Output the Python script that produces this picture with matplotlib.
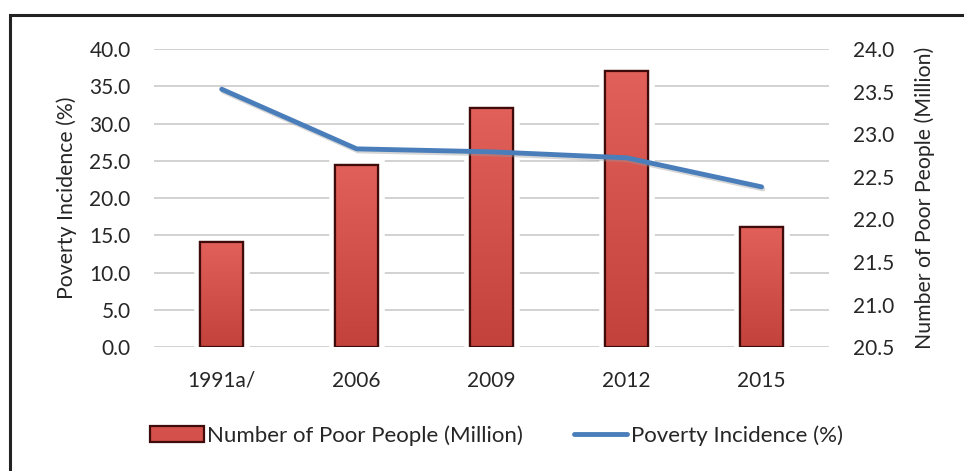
import numpy as np
import matplotlib.pyplot as plt
import matplotlib.patheffects as pe
from matplotlib.patches import Rectangle, Patch
from matplotlib.lines import Line2D
from matplotlib.colors import LinearSegmentedColormap

years = ['1991a/', '2006', '2009', '2012', '2015']
poor_people = [21.73, 22.64, 23.31, 23.74, 21.91]  # million, right axis
poverty_incidence = [34.6, 26.6, 26.2, 25.4, 21.5]  # percent, left axis

plt.rcParams['font.family'] = ['Lato', 'DejaVu Sans']
text_col = '#262626'
bar_col = '#d4504a'
edge_col = '#3f0b0b'
line_col = '#4a7ebb'
grid_col = '#cfcfcf'

fig = plt.figure(figsize=(9.64, 4.71), dpi=100)
fig.subplots_adjust(left=0.16, right=0.86, top=0.896, bottom=0.263)

ax1 = fig.add_subplot(111)
ax2 = ax1.twinx()

x = np.arange(len(years))
left_ticks = np.arange(0, 40.1, 5)
right_ticks = np.arange(20.5, 24.01, 0.5)

ax2.set_ylim(20.5, 24.0)
ax1.set_ylim(0, 40)
ax1.set_xlim(-0.5, len(years) - 0.5)

# gridlines follow the left axis ticks, drawn on ax2 so the bars cover them
for t in left_ticks:
    ax2.axhline(20.5 + t / 40 * 3.5, color=grid_col, linewidth=1.3, zorder=0)

# bars on the right axis, with a soft white halo and a vertical gradient
bars = ax2.bar(x, np.array(poor_people) - 20.5, bottom=20.5, width=0.32,
               color=bar_col, edgecolor=edge_col, linewidth=1.6, zorder=2,
               path_effects=[pe.Stroke(linewidth=9, foreground='white'), pe.Normal()])
grad = LinearSegmentedColormap.from_list('g', ['#c4423c', '#e2605a'])
for b in bars:
    x0, y0 = b.get_x(), b.get_y()
    w, h = b.get_width(), b.get_height()
    im = ax2.imshow(np.linspace(0, 1, 64).reshape(-1, 1), cmap=grad, aspect='auto',
                    origin='lower', extent=(x0, x0 + w, y0, y0 + h), zorder=2.5)
    im.set_clip_path(b)
    ax2.add_patch(Rectangle((x0, y0), w, h, fill=False, edgecolor=edge_col,
                            linewidth=1.6, zorder=3))
ax2.set_xlim(-0.5, len(years) - 0.5)
ax2.set_ylim(20.5, 24.0)
ax2.set_yticks(right_ticks)
ax2.set_yticklabels([f'{v:.1f}' for v in right_ticks])
ax2.set_ylabel('Number of Poor People (Million)', fontsize=15.3, color=text_col, labelpad=15)

# line on the left axis, on top
ax1.set_zorder(ax2.get_zorder() + 1)
ax1.patch.set_visible(False)
ax1.plot(x, poverty_incidence, color=line_col, linewidth=3.5, solid_capstyle='round',
         path_effects=[pe.SimpleLineShadow(offset=(1, -1.5), shadow_color='#999999', alpha=0.4),
                       pe.Normal()])
ax1.set_yticks(left_ticks)
ax1.set_yticklabels([f'{v:.1f}' for v in left_ticks])
ax1.set_ylabel('Poverty Incidence (%)', fontsize=15.3, color=text_col, labelpad=9)
ax1.set_xticks(x)
ax1.set_xticklabels(years)

for ax in (ax1, ax2):
    for s in ax.spines.values():
        s.set_visible(False)
    ax.tick_params(length=0, labelsize=15, colors=text_col, pad=17)
ax1.tick_params(axis='x', pad=17)

handles = [Patch(facecolor=bar_col, edgecolor=edge_col, linewidth=1.6),
           Line2D([0], [0], color=line_col, linewidth=3.5, solid_capstyle='round')]
labels = ['Number of Poor People (Million)', 'Poverty Incidence (%)']
fig.legend(handles, labels, loc='center', bbox_to_anchor=(0.515, 0.075), ncol=2,
           frameon=False, fontsize=16, handlelength=2.4, handletextpad=0.15,
           columnspacing=2.3, labelcolor=text_col)

# outer frame
fig.add_artist(Rectangle((10 / 964, -0.05), 1.2, 1 - 15 / 471 + 0.05, transform=fig.transFigure,
                         fill=False, edgecolor='#222222', linewidth=2.2, clip_on=False))

fig.savefig('out.png', dpi=100)
